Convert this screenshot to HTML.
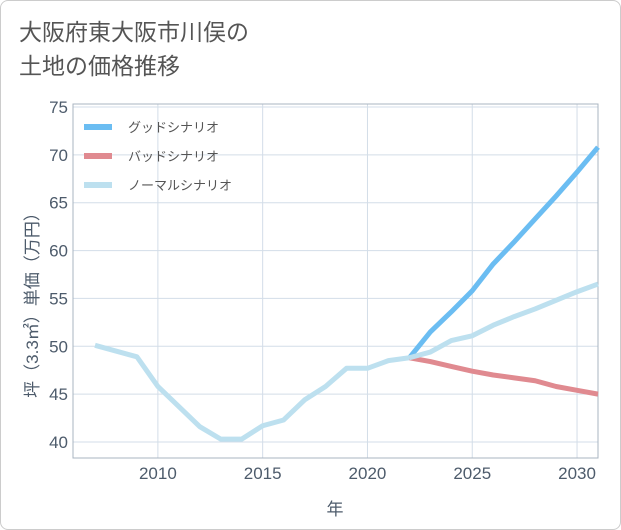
<!DOCTYPE html>
<html><head><meta charset="utf-8">
<style>
body{margin:0;background:#fff;}
#card{position:absolute;left:0;top:0;width:619px;height:528px;border:1px solid #ccc;border-radius:8px;background:#fff;overflow:hidden;font-family:"Liberation Sans","Noto Sans CJK JP",sans-serif;}
#title{position:absolute;left:18px;top:14px;font-size:23px;line-height:34px;color:#555;}
svg text{font-family:"Liberation Sans","Noto Sans CJK JP",sans-serif;}
</style></head>
<body>
<div id="card">
<div id="title">大阪府東大阪市川俣の<br>土地の価格推移</div>
<svg id="chart" width="621" height="530" style="position:absolute;left:0;top:0"></svg>
</div>
<script>
const years=[2007,2008,2009,2010,2011,2012,2013,2014,2015,2016,2017,2018,2019,2020,2021,2022];
const histValues=[50.1,49.5,48.9,45.8,43.7,41.6,40.3,40.3,41.7,42.3,44.4,45.8,47.7,47.7,48.5,48.8];
const futureYears=[2022,2023,2024,2025,2026,2027,2028,2029,2030,2031];
const goodValues=[48.8,51.5,53.6,55.8,58.6,60.9,63.3,65.7,68.2,70.8];
const badValues=[48.8,48.4,47.9,47.4,47.0,46.7,46.4,45.8,45.4,45.0];
const normalValues=[48.8,49.4,50.6,51.1,52.2,53.1,53.9,54.8,55.7,56.5];
const xTicks=[2010,2015,2020,2025,2030];
const yTicks=[40,45,50,55,60,65,70,75];
const seriesNames=["グッドシナリオ","バッドシナリオ","ノーマルシナリオ"];
const seriesColors=["#6bbdf2","#e08a90","#bde0ef"];

const NS="http://www.w3.org/2000/svg";
const svg=document.getElementById('chart');
const L=72,R=597,T=103,B=457;
const xMin=2005.95,xMax=2031;
const X=v=>L+(v-xMin)/(xMax-xMin)*(R-L);
const Y=v=>441-(v-40)*(441-106)/35;
function mk(tag,attrs){const e=document.createElementNS(NS,tag);for(const k in attrs)e.setAttribute(k,attrs[k]);svg.appendChild(e);return e;}

for(const t of xTicks){
 const g=mk('line',{x1:X(t),x2:X(t),y1:T,y2:B,stroke:'#d3dde8','stroke-width':1});
 
 
 const tx=mk('text',{x:X(t),y:478,'text-anchor':'middle','font-size':17,fill:'#4d5b6b'});
 tx.textContent=t;
 
 
}
for(const t of yTicks){
 const g=mk('line',{x1:L,x2:R,y1:Y(t),y2:Y(t),stroke:'#d3dde8','stroke-width':1});
 
 
 const tx=mk('text',{x:67,y:Y(t)+6,'text-anchor':'end','font-size':17,fill:'#4d5b6b'});
 tx.textContent=t;
 
 
}
const fr=mk('rect',{x:L,y:T,width:R-L,height:B-T,fill:'none',stroke:'#a9b4c0','stroke-width':1});



function line(xs,vs,color,name){
 const p=mk('polyline',{points:xs.map((x,i)=>X(x)+','+Y(vs[i])).join(' '),fill:'none',stroke:color,'stroke-width':5,'stroke-linejoin':'round'});
 
 
}
line(futureYears,goodValues,seriesColors[0],'good-scenario-line');
line(futureYears,badValues,seriesColors[1],'bad-scenario-line');
line(futureYears,normalValues,seriesColors[2],'normal-scenario-line');
line(years,histValues,seriesColors[2],'historical-line');

seriesNames.forEach((n,i)=>{
 const y=126+i*29;
 const s=mk('line',{x1:83,x2:111,y1:y,y2:y,stroke:seriesColors[i],'stroke-width':6});
 
 
 const t=mk('text',{x:127,y:y+5,'font-size':13,fill:'#555'});
 t.textContent=n;
 
 
});

const xt=mk('text',{x:334,y:514,'text-anchor':'middle','font-size':17,fill:'#4d5b6b'});
xt.textContent='年';


const yt=mk('text',{x:0,y:0,'text-anchor':'middle','font-size':17,fill:'#4d5b6b',transform:'translate(37,300) rotate(-90)'});
yt.textContent='坪（3.3㎡）単価（万円）';


</script>
</body></html>
